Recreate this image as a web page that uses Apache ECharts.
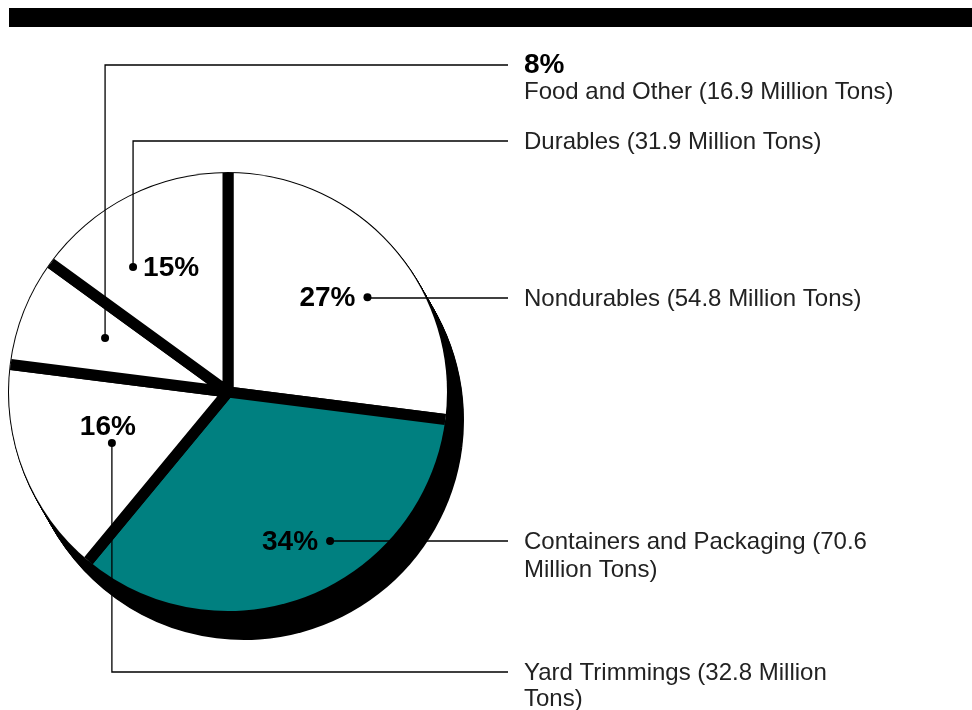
<!DOCTYPE html>
<html>
<head>
<meta charset="utf-8">
<script src="https://cdn.jsdelivr.net/npm/echarts@6/dist/echarts.min.js"></script>
<style>
  html, body { margin: 0; padding: 0; background: #fff; }
  #chart { width: 972px; height: 710px; }
</style>
</head>
<body>
<div id="chart"></div>
<script>
// Municipal solid waste generation by product category (share of total, %)
const categories = ['Nondurables', 'Containers and Packaging', 'Yard Trimmings', 'Food and Other', 'Durables'];
const percents = [27, 34, 16, 8, 15];
const millionTons = [54.8, 70.6, 32.8, 16.9, 31.9];
const sliceColors = ['#ffffff', '#008080', '#ffffff', '#ffffff', '#ffffff'];

// Pie geometry
const CX = 228, CY = 392, R = 219;
const DEPTH_X = 16, DEPTH_Y = 28, DEPTH_STEPS = 28; // extruded black shadow
const GAP = 11;                                     // black band between slices

// Label placement: anchor dot inside each slice (angle shift from slice middle, fraction of radius),
// callout text row y and the pieces of text for each row
const labelLayout = [
  { angleShift: -7.2, dist: 0.77, rowY: [298], pct: 'left', lines: ['Nondurables (54.8 Million Tons)'] },
  { angleShift: 12.8, dist: 0.825, rowY: [541, 569], pct: 'left', lines: ['Containers and Packaging (70.6', 'Million Tons)'] },
  { angleShift: 2.1, dist: 0.579, rowY: [672, 698], pct: 'above', lines: ['Yard Trimmings (32.8 Million', 'Tons)'] },
  { angleShift: -2.1, dist: 0.613, rowY: [65, 91], pct: 'row', lines: ['Food and Other (16.9 Million Tons)'] },
  { angleShift: 10.2, dist: 0.717, rowY: [141], pct: 'right', lines: ['Durables (31.9 Million Tons)'] }
];

const LABEL_X = 524, LINE_END_X = 508;
const FONT = '"Liberation Sans", Arial, Helvetica, sans-serif';

const total = percents.reduce((a, b) => a + b, 0);

// Slice data for the main pie: thick black stroke only along the two radii
// (dash pattern skips the outer arc, which is drawn first in the sector path)
const mainData = percents.map((v, i) => {
  const arcLen = R * (v / total) * Math.PI * 2;
  const dash = 2 * R + 40;
  return {
    name: categories[i],
    value: v,
    itemStyle: {
      color: sliceColors[i],
      borderColor: '#000',
      borderWidth: GAP,
      borderType: [dash, arcLen],
      borderDashOffset: dash,
      borderJoin: 'round',
      borderCap: 'butt'
    }
  };
});

const series = [];
// Shadow layers: black copies of the pie stepped down and to the right
for (let k = DEPTH_STEPS; k >= 0; k--) {
  series.push({
    type: 'pie',
    silent: true,
    animation: false,
    z: 1,
    center: [CX + DEPTH_X * k / DEPTH_STEPS, CY + DEPTH_Y * k / DEPTH_STEPS],
    radius: R + 1,
    startAngle: 90,
    clockwise: true,
    label: { show: false },
    labelLine: { show: false },
    emphasis: { disabled: true },
    itemStyle: { color: '#000', borderWidth: 0 },
    data: percents.map((v, i) => ({ name: categories[i], value: v }))
  });
}
series.push({
  type: 'pie',
  silent: true,
  animation: false,
  z: 2,
  center: [CX, CY],
  radius: R,
  startAngle: 90,
  clockwise: true,
  label: { show: false },
  labelLine: { show: false },
  emphasis: { disabled: true },
  data: mainData
});

// Callouts: dot inside slice, orthogonal leader line to the text column
const graphics = [
  { type: 'rect', z: 100, shape: { x: 9, y: 8, width: 963, height: 19 }, style: { fill: '#000' } }
];
let acc = 0;
percents.forEach((v, i) => {
  const startDeg = 90 - acc / total * 360;
  acc += v;
  const endDeg = 90 - acc / total * 360;
  const lay = labelLayout[i];
  const a = ((startDeg + endDeg) / 2 + lay.angleShift) * Math.PI / 180;
  const dx = CX + Math.cos(a) * R * lay.dist;
  const dy = CY - Math.sin(a) * R * lay.dist;
  const rowY = lay.rowY[0];
  const pts = Math.abs(dy - rowY) < 1
    ? [[dx, rowY], [LINE_END_X, rowY]]
    : [[dx, dy], [dx, rowY], [LINE_END_X, rowY]];
  graphics.push({ type: 'polyline', z: 100, shape: { points: pts }, style: { stroke: '#000', lineWidth: 1.3, fill: null } });
  graphics.push({ type: 'circle', z: 101, shape: { cx: dx, cy: dy, r: 4 }, style: { fill: '#000' } });

  const pctText = v + '%';
  const pctStyle = { text: pctText, fontFamily: FONT, fontWeight: 'bold', fontSize: 28, fill: '#000', verticalAlign: 'middle' };
  if (lay.pct === 'left') {
    graphics.push({ type: 'text', z: 102, x: dx - 12, y: dy + 1, style: Object.assign({ align: 'right' }, pctStyle) });
  } else if (lay.pct === 'right') {
    graphics.push({ type: 'text', z: 102, x: dx + 10, y: dy + 1, style: Object.assign({ align: 'left' }, pctStyle) });
  } else if (lay.pct === 'above') {
    graphics.push({ type: 'text', z: 102, x: dx - 4, y: dy - 16, style: Object.assign({ align: 'center' }, pctStyle) });
  } else {
    graphics.push({ type: 'text', z: 102, x: LABEL_X, y: rowY, style: Object.assign({ align: 'left' }, pctStyle) });
  }

  const textRows = lay.pct === 'row' ? lay.rowY.slice(1) : lay.rowY;
  lay.lines.forEach((line, j) => {
    graphics.push({
      type: 'text', z: 102, x: LABEL_X, y: textRows[j] + 1,
      style: { text: line, fontFamily: FONT, fontSize: 24, fill: '#222', align: 'left', verticalAlign: 'middle' }
    });
  });
});

const chart = echarts.init(document.getElementById('chart'), null, { renderer: 'canvas' });
chart.setOption({
  animation: false,
  backgroundColor: '#ffffff',
  series: series,
  graphic: graphics
});
</script>
</body>
</html>
